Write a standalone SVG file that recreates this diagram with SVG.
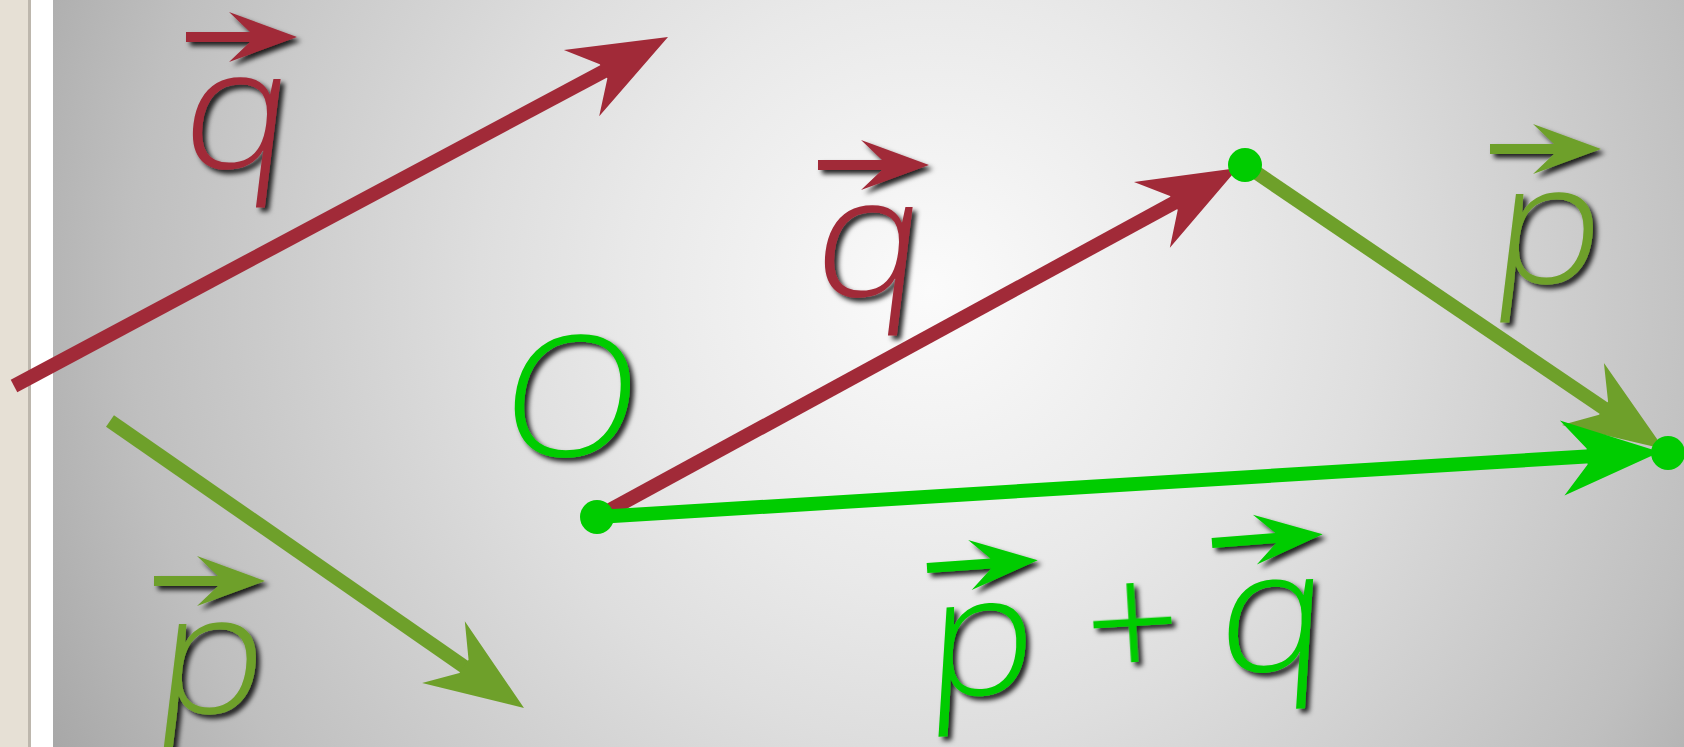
<svg xmlns="http://www.w3.org/2000/svg" xmlns:xlink="http://www.w3.org/1999/xlink" width="1684" height="747" viewBox="0 0 1684 747">
<defs>
  <radialGradient id="bg" gradientUnits="userSpaceOnUse" cx="930" cy="290" r="1000">
    <stop offset="0" stop-color="#fbfbfb"/>
    <stop offset="0.3" stop-color="#e9e9e9"/>
    <stop offset="0.45" stop-color="#dedede"/>
    <stop offset="0.8" stop-color="#bfbfbf"/>
    <stop offset="1" stop-color="#a6a6a6"/>
  </radialGradient>
  <filter id="sh" x="-30%" y="-30%" width="160%" height="160%">
    <feDropShadow dx="4" dy="4" stdDeviation="2.5" flood-color="#000" flood-opacity="0.85"/>
  </filter>
  <path id="vec" d="M0,-5 H64 L43,-25 L111,0 L43,25 L64,5 H0 Z"/>
  <path id="head" d="M0,0 L-98,-37.5 L-73,-8 L-73,8 L-98,37.5 Z"/>
  <style>
    .lbl { font-family: "Open Sans", "DejaVu Sans", sans-serif; font-size: 168px; font-weight: 300; }
    .maroon { fill: #a12a38; }
    .olive { fill: #6ea02a; }
    .green { fill: #00cc00; }
    .lm { stroke: #a12a38; stroke-width: 14; fill: none; }
    .lo { stroke: #6ea02a; stroke-width: 14; fill: none; }
    .lg { stroke: #00cc00; stroke-width: 14; fill: none; }
  </style>
</defs>

<g id="background">
  <rect x="0" y="0" width="1684" height="747" fill="#e6e0d5"/>
  <rect x="28" y="0" width="3" height="747" fill="#bdb7ad"/>
  <rect x="31" y="0" width="22" height="747" fill="#ffffff"/>
  <rect x="53" y="0" width="1631" height="747" fill="url(#bg)"/>
</g>

<g id="connectors">
  <g id="vector-q-free">
    <line class="lm" x1="14" y1="386" x2="628.3" y2="58.2"/>
    <use href="#head" class="maroon" transform="translate(668,37) rotate(-28.08)"/>
  </g>
  <g id="vector-p-free">
    <line class="lo" x1="110" y1="421" x2="487" y2="682.4"/>
    <use href="#head" class="olive" transform="translate(524,708) rotate(34.73)"/>
  </g>
  <g id="vector-p">
    <line class="lo" x1="1245" y1="165" x2="1626.7" y2="423.8"/>
    <use href="#head" class="olive" transform="translate(1664,449) rotate(34.13)"/>
  </g>
  <g id="vector-q">
    <line class="lm" x1="597" y1="517" x2="1198.5" y2="189.5"/>
    <use href="#head" class="maroon" transform="translate(1238,168) rotate(-28.57)"/>
  </g>
  <g id="vector-sum">
    <line class="lg" x1="597" y1="517" x2="1615.1" y2="454.7"/>
    <use href="#head" class="green" transform="translate(1660,452) rotate(-3.5)"/>
  </g>
</g>

<g id="point-O"><circle cx="597" cy="517" r="17" class="green"/></g>
<g id="point-Q"><circle cx="1245" cy="165" r="17" class="green"/></g>
<g id="point-S"><circle cx="1668" cy="453" r="17" class="green"/></g>

<g id="label-q-free" filter="url(#sh)">
  <use href="#vec" class="maroon" transform="translate(186,37)"/>
  <text class="lbl maroon" transform="translate(178,168) skewX(-7) scale(1.08,1)" x="0" y="0">q</text>
</g>
<g id="label-p-free" filter="url(#sh)">
  <use href="#vec" class="olive" transform="translate(154,581)"/>
  <text class="lbl olive" transform="translate(152,713) skewX(-7) scale(1.08,1)" x="0" y="0">p</text>
</g>
<g id="label-O" filter="url(#sh)">
  <text class="lbl green" transform="translate(497,456) skewX(-7) scale(1.06,1)" x="0" y="0">O</text>
</g>
<g id="label-q" filter="url(#sh)">
  <use href="#vec" class="maroon" transform="translate(818,165)"/>
  <text class="lbl maroon" transform="translate(810,296) skewX(-7) scale(1.08,1)" x="0" y="0">q</text>
</g>
<g id="label-p" filter="url(#sh)">
  <use href="#vec" class="olive" transform="translate(1490,149)"/>
  <text class="lbl olive" transform="translate(1489,283) skewX(-7) scale(1.08,1)" x="0" y="0">p</text>
</g>
<g id="label-sum" filter="url(#sh)">
  <use href="#vec" class="green" transform="translate(927,568) rotate(-4)"/>
  <text class="lbl green" transform="translate(925,698) rotate(-3.4) skewX(-7) scale(1.08,1)" x="0" y="0">p</text>
  <text class="lbl green" transform="translate(1136,682) rotate(-3.4)" x="0" y="0" text-anchor="middle" font-weight="400">+</text>
  <use href="#vec" class="green" transform="translate(1212,543) rotate(-4.5)"/>
  <text class="lbl green" transform="translate(1216,674) rotate(-3.4) skewX(-7) scale(1.08,1)" x="0" y="0">q</text>
</g>
</svg>
